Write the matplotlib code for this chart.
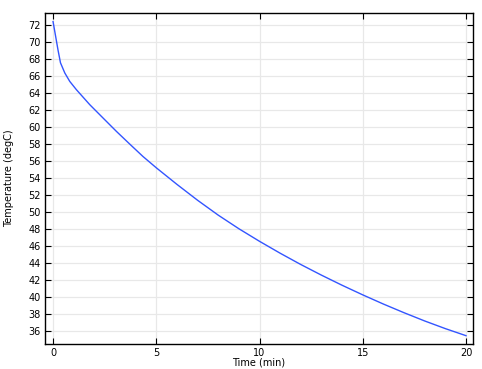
import matplotlib
matplotlib.use("Agg")
import matplotlib.pyplot as plt

time_min = [0, 0.24, 0.36, 0.57, 0.81, 1.13, 1.78, 2.42, 3.07, 3.71, 4.35, 5,
            6, 7, 8, 9, 10, 11, 12, 13, 14, 15, 16, 17, 18, 19, 20]
temp_degC = [72.4, 69.06, 67.55, 66.35, 65.36, 64.39, 62.62, 61.06, 59.48, 58.0,
             56.54, 55.2, 53.25, 51.38, 49.63, 48.03, 46.55, 45.15, 43.82, 42.57,
             41.38, 40.25, 39.17, 38.15, 37.18, 36.28, 35.45]
x_ticks = [0, 5, 10, 15, 20]
y_ticks = list(range(36, 73, 2))

fig = plt.figure(figsize=(4.82, 3.69), dpi=100)
ax = fig.add_axes([45/482, 1-344/369, (473-45)/482, (344-13)/369])
ax.plot(time_min, temp_degC, color='#3355ff', lw=1.0)
ax.set_xlim(-0.39, 20.34)
ax.set_ylim(34.47, 73.41)
ax.set_xticks(x_ticks)
ax.set_yticks(y_ticks)
ax.grid(True, color='#e8e8e8', lw=0.9)
ax.set_axisbelow(True)
ax.tick_params(direction='in', top=True, right=True, labelsize=7, length=4,
               width=0.8, pad=3)
for s in ax.spines.values():
    s.set_linewidth(1.0)
ax.set_xlabel('Time (min)', fontsize=7, labelpad=-0.5)
ax.set_ylabel('Temperature (degC)', fontsize=7, labelpad=10)
fig.savefig('out.png', dpi=100)
